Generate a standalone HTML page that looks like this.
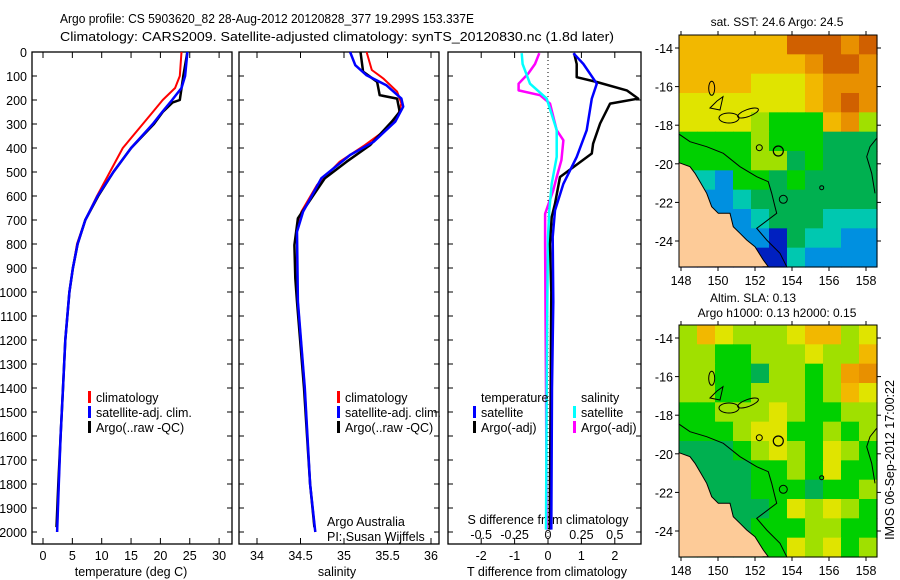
<!DOCTYPE html>
<html><head><meta charset="utf-8">
<style>
html,body{margin:0;padding:0;background:#fff;}
svg{display:block;font-family:"Liberation Sans",sans-serif;}
text{fill:#000;}
</style></head>
<body>
<svg id="chart" width="900" height="580" viewBox="0 0 900 580" xmlns="http://www.w3.org/2000/svg">
<text x="60" y="23" font-size="13" textLength="414" lengthAdjust="spacingAndGlyphs">Argo profile: CS 5903620_82 28-Aug-2012 20120828_377 19.299S 153.337E</text>
<text x="60" y="41" font-size="13" textLength="554" lengthAdjust="spacingAndGlyphs">Climatology: CARS2009. Satellite-adjusted climatology: synTS_20120830.nc (1.8d later)</text>
<g id="plots"></g>
<g id="maps"></g>
<text transform="translate(894,460) rotate(-90)" text-anchor="middle" font-size="12.5">IMOS 06-Sep-2012 17:00:22</text>
</svg>
<script>
// ---- data ----
const depthTicks = [0,100,200,300,400,500,600,700,800,900,1000,1100,1200,1300,1400,1500,1600,1700,1800,1900,2000];
const tempTicks = [0,5,10,15,20,25,30];
const salTicks = [34,34.5,35,35.5,36];
const tDiffTicks = [-2,-1,0,1,2];
const sDiffTicks = [-0.5,-0.25,0,0.25,0.5];
const sDiffTickLabels = ["-0.5","-0.25","0","0.25","0.5"];

const tClimDepth = [0,100,150,200,250,300,400,500,600,700,800,900,1000,1200,1400,1600,1800,2000];
const tClim = [23.6,23.3,22.5,20.4,18.7,17.0,13.6,11.4,9.2,7.2,5.8,5.1,4.5,3.8,3.4,3.0,2.7,2.4];
const tSat = [24.6,24.2,23.6,22.0,20.3,18.7,15.0,12.0,9.3,7.2,5.9,5.1,4.5,3.8,3.4,3.0,2.7,2.4];
const tArgoDepth = [0,100,200,210,250,300,400,500,600,700,800,900,1000,1200,1400,1600,1800,1980];
const tArgo = [24.6,23.9,23.3,22.1,20.4,18.9,15.0,12.0,9.4,7.2,5.9,5.1,4.5,3.8,3.4,3.0,2.6,2.3];

const sClimDepth = [0,75,110,165,214,276,332,388,457,554,665,734,873,1040,1400,1800,2000];
const sClim = [35.26,35.32,35.45,35.61,35.66,35.61,35.45,35.24,34.95,34.69,34.51,34.46,34.46,34.47,34.55,34.61,34.67];
const sSatDepth = [0,55,97,139,194,228,290,374,429,526,665,749,1040,1400,1800,2000];
const sSat = [35.07,35.13,35.26,35.49,35.66,35.68,35.59,35.34,35.07,34.74,34.53,34.46,34.47,34.55,34.61,34.67];
const sArgoDepth = [0,82,124,180,194,249,290,388,457,526,596,693,804,943,1040,1400,1800,1980];
const sArgo = [35.19,35.22,35.38,35.41,35.61,35.64,35.55,35.30,35.03,34.78,34.65,34.47,34.43,34.44,34.46,34.54,34.61,34.66];

const dTArgoDepth = [5,50,105,125,160,194,215,298,382,423,465,521,632,688,800,1000,1400,1990];
const dTArgo = [0.78,0.86,0.86,1.46,2.36,2.70,1.86,1.56,1.35,1.31,0.9,0.36,0.21,0.11,0.06,0.1,0.08,0.05];
const dSatDepth = [5,50,132,194,326,437,549,660,771,1040,1400,1990];
const dTSat = [0.76,1.06,1.46,1.31,1.16,0.86,0.46,0.21,0.14,0.16,0.12,0.1];
const dSSat = [-0.197,-0.19,-0.135,-0.01,0.065,0.065,0.028,0.01,0.0,-0.005,-0.01,-0.015];
const dSArgoDepth = [5,50,90,132,160,180,215,326,368,451,521,576,674,800,1400,1990];
const dSArgo = [-0.065,-0.097,-0.148,-0.22,-0.22,-0.06,0.015,0.065,0.115,0.10,0.065,0.04,-0.022,-0.022,-0.015,-0.01];

// ---- axes ----
const NS = "http://www.w3.org/2000/svg";
const yD = d => 52 + d*0.24;
const xT = t => 43 + t*5.87;
const xS = s => 257 + (s-34)*87;
const xDT = v => 548 + v*33.4;
const xDS = v => 548 + v*133.6;
const plots = document.getElementById('plots');
function mk(tag, attrs, parent){ const e=document.createElementNS(NS,tag); for(const k in attrs) e.setAttribute(k,attrs[k]); (parent||plots).appendChild(e); return e; }
function txt(x,y,s,size,anchor,parent){ const e=mk('text',{x:x,y:y,'font-size':size||12.5,'text-anchor':anchor||'start'},parent); e.textContent=s; return e; }

const panels = [{l:32,r:232,name:'temperature-panel'},{l:239,r:439,name:'salinity-panel'},{l:448,r:641,name:'difference-panel'}];
panels.forEach(p=>{
  const g = mk('g',{});
  
  
  mk('rect',{x:p.l,y:52,width:p.r-p.l,height:492,fill:'none',stroke:'#000','stroke-width':1.3},g);
  depthTicks.forEach(d=>{
    mk('line',{x1:p.l,x2:p.l+5,y1:yD(d),y2:yD(d),stroke:'#000'},g);
    mk('line',{x1:p.r-5,x2:p.r,y1:yD(d),y2:yD(d),stroke:'#000'},g);
  });
});
depthTicks.forEach(d=>{
  const t=txt(27,yD(d)+5,String(d),12.5,'end');
  
  
});
function xTicks(vals, fx, labels, ly){
  vals.forEach((v,i)=>{
    mk('line',{x1:fx(v),x2:fx(v),y1:544,y2:538,stroke:'#000'});
    mk('line',{x1:fx(v),x2:fx(v),y1:52,y2:58,stroke:'#000'});
    if(labels){ const t=txt(fx(v),ly,labels[i],12.5,'middle');
      
       }
  });
}
xTicks(tempTicks,xT,tempTicks.map(String),560);
xTicks(salTicks,xS,salTicks.map(String),560);
xTicks(tDiffTicks,xDT,tDiffTicks.map(String),560);
sDiffTicks.forEach((v,i)=>{
  const t=txt(xDS(v),539,sDiffTickLabels[i],12.5,'middle');
  
  
});
[['temperature (deg C)',131,'temperature-axis-title'],['salinity',337,'salinity-axis-title'],['T difference from climatology',547,'t-diff-axis-title']].forEach(a=>{
  const t=txt(a[1],576,a[0],12.5,'middle');
  
  
});
const sdt = txt(548,524,'S difference from climatology',12.5,'middle');


const zl = mk('line',{x1:xDT(0),x2:xDT(0),y1:52,y2:544,stroke:'#000','stroke-dasharray':'1,3'});



function series(depths, vals, fx, color, w, name){
  const pts = depths.map((d,i)=>fx(vals[i]).toFixed(1)+','+yD(d).toFixed(1)).join(' ');
  const e = mk('polyline',{points:pts,fill:'none',stroke:color,'stroke-width':w,'stroke-linejoin':'round'});
  
  
}
series(tClimDepth,tClim,xT,'#ff0000',2,'temp-climatology-line');
series(tArgoDepth,tArgo,xT,'#000000',2.5,'temp-argo-line');
series(tClimDepth,tSat,xT,'#0000ff',2.5,'temp-satellite-line');
series(sClimDepth,sClim,xS,'#ff0000',2,'sal-climatology-line');
series(sArgoDepth,sArgo,xS,'#000000',2.5,'sal-argo-line');
series(sSatDepth,sSat,xS,'#0000ff',2.5,'sal-satellite-line');
series(dSArgoDepth,dSArgo,xDS,'#ff00ff',2.5,'s-diff-argo-line');
series(dSatDepth,dSSat,xDS,'#00ffff',2.5,'s-diff-satellite-line');
series(dTArgoDepth,dTArgo,xDT,'#000000',2.5,'t-diff-argo-line');
series(dSatDepth,dTSat,xDT,'#0000ff',2.5,'t-diff-satellite-line');

function legend(x,y,color,label){
  const g=mk('g',{});
  
  
  if(color) mk('rect',{x:x-8,y:y-11,width:3,height:12,fill:color},g);
  txt(x,y,label,12.5,'start',g);
}
legend(96,402,'#ff0000','climatology');
legend(96,417,'#0000ff','satellite-adj. clim.');
legend(96,432,'#000000','Argo(..raw -QC)');
legend(345,402,'#ff0000','climatology');
legend(345,417,'#0000ff','satellite-adj. clim.');
legend(345,432,'#000000','Argo(..raw -QC)');
legend(481,402,null,'temperature');
legend(481,417,'#0000ff','satellite');
legend(481,432,'#000000','Argo(-adj)');
legend(581,402,null,'salinity');
legend(581,417,'#00ffff','satellite');
legend(581,432,'#ff00ff','Argo(-adj)');
const ca=txt(327,526,'Argo Australia',12.5);  
const cb=txt(327,541,'PI: Susan Wijffels',12.5);  

// ---- maps ----
const mapPal = {R:'#d06000',O:'#e89000',Y:'#f2b800',y:'#e0e400',l:'#a0e000',G:'#00d000',g:'#00b050',c:'#00c8b0',b:'#0090e0',B:'#0020c0',L:'#00b050',
                H:'#f0a000'};
const sstRows = ["YYYYYYRRROR","YYYYYYYORRO","YYYYyyyYOOO","yyyyyyyYORO","yyyylGGGYOl","GGGGlGGGggg","GGGGllgGggg","ccbGGgGgggg","cbbcggggggg","bbbbcgggccc","bBbbbBgccbb","BBBBBBcbbbb"];
const slaRows = ["lYylllyYYly","llGGlllyllY","llGGgllGlHO","llGGlllGlYy","GGlllylGGll","GGGlyyGGlGl","gggGlylGylG","ggggGGlGyGG","ggggGGGgGGl","gggggGylylG","ggggGGGllGG","ggggGGylyGl"];
const latTicks = [-14,-16,-18,-20,-22,-24];
const lonTicks = [148,150,152,154,156,158];
const mapsG = document.getElementById('maps');
function drawMap(ox,oy,rows,name){
  const g = mk('g',{transform:`translate(${ox},${oy})`},mapsG);
  
  
  const cw=198/11, ch=232/12;
  rows.forEach((row,r)=>{ for(let c=0;c<11;c++){
    mk('rect',{x:(c*cw).toFixed(2),y:(r*ch).toFixed(2),width:(cw+0.6).toFixed(2),height:(ch+0.6).toFixed(2),fill:mapPal[row[c]]},g);
  }});
  const land = mk('polygon',{points:"0,127.7 11,131.7 16,138.3 21,146.7 27.7,158.3 32.7,171.7 39.3,178.3 51,178.3 54.3,191.7 61,198.3 67.7,205 76,211.7 84.3,225 89.3,231.7 0,232",fill:'#fdcb98',stroke:'#000','stroke-width':1},g);
  
  
  mk('polyline',{points:"0.3,99.3 11,106.7 27.7,111.7 44.3,118.3 61,131.7 77.7,141.7 89.3,146.7 92.7,158.3 96,171.7 97.7,178.3 77.7,193.3 87.7,205 101,218.3 107.7,231.7",fill:'none',stroke:'#000','stroke-width':1},g);
  mk('polyline',{points:"197.7,103.3 191,111.7 187.7,121.7 192.7,138.3 196,158.3",fill:'none',stroke:'#000','stroke-width':1},g);
  mk('ellipse',{cx:32.7,cy:53.3,rx:3,ry:7,fill:'none',stroke:'#000'},g);
  mk('polygon',{points:"31,73 41,75 44,61.7 38,66",fill:'none',stroke:'#000'},g);
  mk('ellipse',{cx:50,cy:83,rx:10,ry:5,fill:'none',stroke:'#000'},g);
  mk('ellipse',{cx:69,cy:78,rx:11,ry:3.5,fill:'none',stroke:'#000',transform:'rotate(-20 69 78)'},g);
  mk('circle',{cx:80.3,cy:112.7,r:3,fill:'none',stroke:'#000'},g);
  mk('circle',{cx:99.3,cy:116,r:5,fill:'none',stroke:'#000','stroke-width':1.2},g);
  mk('circle',{cx:104.3,cy:164.3,r:4,fill:'none',stroke:'#000'},g);
  mk('circle',{cx:142.7,cy:152.7,r:2,fill:'none',stroke:'#000'},g);
  mk('rect',{x:0,y:0,width:198,height:232,fill:'none',stroke:'#000','stroke-width':1},g);
  const yLat = v => 13 + (-14 - v)*19.3;
  const xLon = v => 2 + (v-148)*18.5;
  latTicks.forEach(v=>{
    mk('line',{x1:-4,x2:0,y1:yLat(v),y2:yLat(v),stroke:'#000'},g);
    mk('line',{x1:198,x2:202,y1:yLat(v),y2:yLat(v),stroke:'#000'},g);
    const t=txt(-6,yLat(v)+5,String(v),12.5,'end',g);
    
    
  });
  lonTicks.forEach(v=>{
    mk('line',{x1:xLon(v),x2:xLon(v),y1:-4,y2:0,stroke:'#000'},g);
    mk('line',{x1:xLon(v),x2:xLon(v),y1:232,y2:236,stroke:'#000'},g);
    const t=txt(xLon(v),250,String(v),12.5,'middle',g);
    
    
  });
}
drawMap(679,35,sstRows,'sst-map');
drawMap(679,325,slaRows,'sla-map');
const m1=txt(777,26,'sat. SST: 24.6 Argo: 24.5',12,'middle');  
const m2=txt(753,302,'Altim. SLA: 0.13',12,'middle');  
const m3=txt(777,317,'Argo h1000: 0.13 h2000: 0.15',12,'middle');  
</script>
</body></html>
